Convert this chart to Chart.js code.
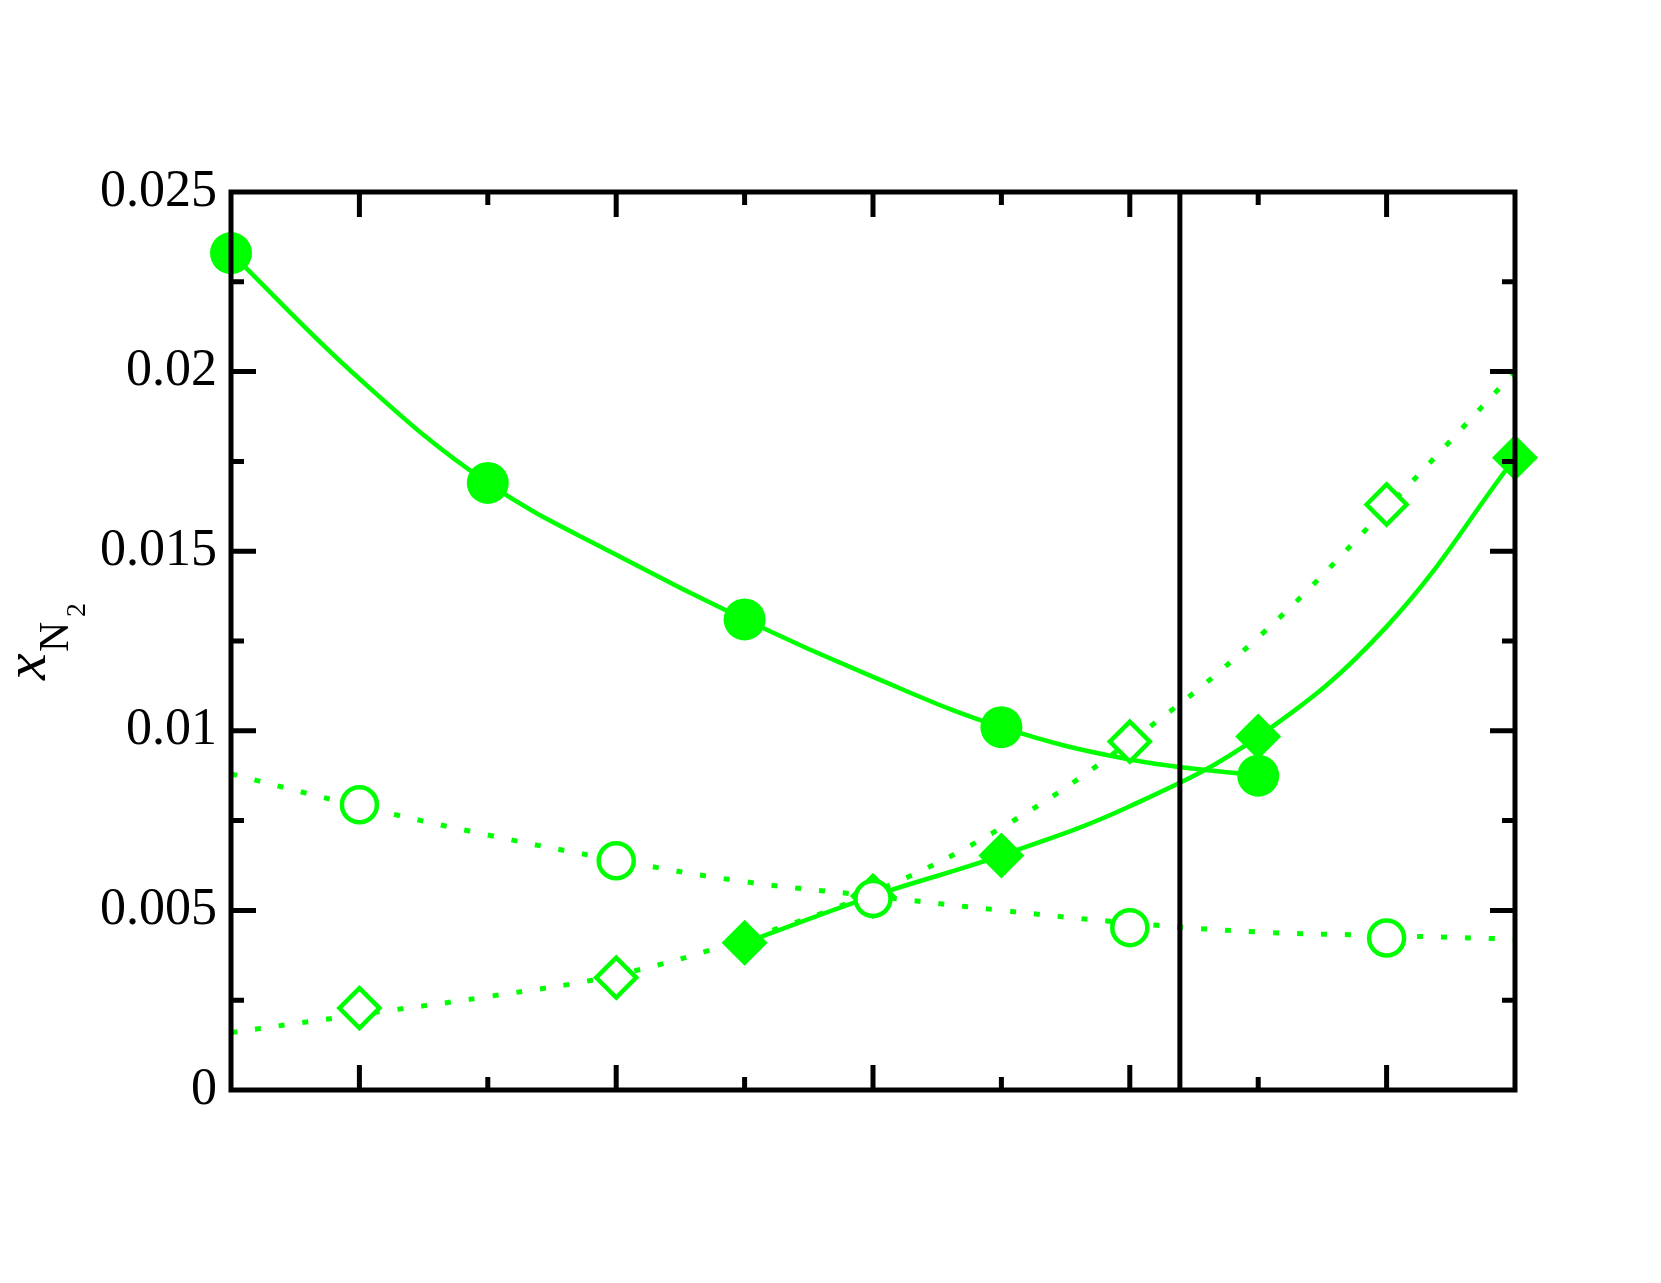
<!DOCTYPE html>
<html>
<head>
<meta charset="utf-8">
<script src="https://cdn.jsdelivr.net/npm/chart.js@4.4.0/dist/chart.umd.min.js"></script>
<style>
  html, body { margin: 0; padding: 0; background: #fff; }
</style>
</head>
<body>
<canvas id="chart" width="1661" height="1283"></canvas>
<script>
// measured points
const xFilledCircle = [0, 2, 4, 6, 8];
const yFilledCircle = [0.0233, 0.0169, 0.0131, 0.0101, 0.00875];
const xFilledDiamond = [4, 6, 8, 10];
const yFilledDiamond = [0.0041, 0.00653, 0.00984, 0.0176];
const xOpenCircle = [1, 3, 5, 7, 9];
const yOpenCircle = [0.00794, 0.00638, 0.00533, 0.00452, 0.00423];
const xOpenDiamond = [1, 3, 5, 7, 9];
const yOpenDiamond = [0.00228, 0.00313, 0.0054, 0.0097, 0.0163];

// fitted curves at whole x steps
const xFitFilledCircle = [0, 1, 2, 3, 4, 5, 6, 7, 8];
const yFitFilledCircle = [0.0233, 0.0198, 0.0169, 0.0149, 0.0131, 0.0115, 0.0101, 0.0092, 0.00875];
const xFitFilledDiamond = [4, 5, 6, 7, 8, 9, 10];
const yFitFilledDiamond = [0.0041, 0.0054, 0.00653, 0.0079, 0.00984, 0.0129, 0.0176];
const xFitOpenCircle = [0, 1, 2, 3, 4, 5, 6, 7, 8, 9, 10];
const yFitOpenCircle = [0.0088, 0.0079, 0.0071, 0.0064, 0.0058, 0.0054, 0.0050, 0.00465, 0.0044, 0.0043, 0.0042];
const xFitOpenDiamond = [0, 1, 2, 3, 4, 5, 6, 7, 8, 9, 10];
const yFitOpenDiamond = [0.0016, 0.0021, 0.0026, 0.0032, 0.0042, 0.0055, 0.0073, 0.0097, 0.0126, 0.0162, 0.0200];

// vertical marker line
const boundaryX = 7.39;

const yTickLabels = ['0', '0.005', '0.01', '0.015', '0.02', '0.025'];

const GREEN = '#00ff00';

function pts(xs, ys) {
  let out = [];
  for (let i = 0; i < xs.length; i++) {
    out.push({ x: xs[i], y: ys[i] });
  }
  return out;
}

function fitLine(xs, ys, dotted) {
  return {
    data: pts(xs, ys),
    borderColor: GREEN,
    borderWidth: dotted ? 5 : 4.5,
    borderDash: dotted ? [6, 18] : [],
    borderCapStyle: 'butt',
    pointRadius: 0,
    tension: 0.4,
    fill: false,
    order: 2
  };
}

function markers(xs, ys, style, radius, open) {
  return {
    data: pts(xs, ys),
    showLine: false,
    pointStyle: style,
    pointRadius: radius,
    pointBackgroundColor: open ? '#ffffff' : GREEN,
    pointBorderColor: GREEN,
    pointBorderWidth: open ? 4.5 : 0,
    clip: false,
    order: 0
  };
}

// frame, inward ticks on all four sides, and the vertical line
const framePlugin = {
  id: 'frame',
  afterDatasetsDraw(chart) {
    const ctx = chart.ctx;
    const a = chart.chartArea;
    const xs = chart.scales.x;
    const ys = chart.scales.y;
    ctx.save();
    ctx.strokeStyle = '#000';
    ctx.lineWidth = 5;
    ctx.lineCap = 'butt';
    ctx.lineJoin = 'miter';

    const bx = xs.getPixelForValue(boundaryX);
    ctx.beginPath();
    ctx.moveTo(bx, a.top);
    ctx.lineTo(bx, a.bottom);
    ctx.stroke();

    ctx.beginPath();
    for (let i = 1; i < 10; i++) {
      const px = xs.getPixelForValue(i);
      const len = i % 2 === 1 ? 25 : 13;
      ctx.moveTo(px, a.bottom);
      ctx.lineTo(px, a.bottom - len);
      ctx.moveTo(px, a.top);
      ctx.lineTo(px, a.top + len);
    }
    for (let i = 1; i < 10; i++) {
      const py = ys.getPixelForValue(i * 0.0025);
      const len = i % 2 === 0 ? 25 : 13;
      ctx.moveTo(a.left, py);
      ctx.lineTo(a.left + len, py);
      ctx.moveTo(a.right, py);
      ctx.lineTo(a.right - len, py);
    }
    ctx.stroke();

    ctx.strokeRect(a.left, a.top, a.right - a.left, a.bottom - a.top);
    ctx.restore();
  }
};

// y axis title: x with subscript N with subscript 2, rotated
const titlePlugin = {
  id: 'ytitle',
  afterDraw(chart) {
    const ctx = chart.ctx;
    ctx.save();
    ctx.translate(45, 680);
    ctx.rotate(-Math.PI / 2);
    ctx.fillStyle = '#000';
    ctx.textBaseline = 'alphabetic';
    ctx.textAlign = 'left';
    ctx.font = 'italic 60px "Liberation Serif"';
    ctx.fillText('x', 0, 0);
    ctx.font = '42px "Liberation Serif"';
    ctx.fillText('N', 28, 23);
    ctx.font = '28px "Liberation Serif"';
    ctx.fillText('2', 63, 40);
    ctx.restore();
  }
};

new Chart(document.getElementById('chart'), {
  type: 'line',
  data: {
    datasets: [
      markers(xFilledCircle, yFilledCircle, 'circle', 21, false),
      markers(xFilledDiamond, yFilledDiamond, 'rectRot', 23, false),
      markers(xOpenCircle, yOpenCircle, 'circle', 17.5, true),
      markers(xOpenDiamond, yOpenDiamond, 'rectRot', 20, true),
      fitLine(xFitFilledCircle, yFitFilledCircle, false),
      fitLine(xFitFilledDiamond, yFitFilledDiamond, false),
      fitLine(xFitOpenCircle, yFitOpenCircle, true),
      fitLine(xFitOpenDiamond, yFitOpenDiamond, true)
    ]
  },
  options: {
    responsive: false,
    animation: false,
    devicePixelRatio: 1,
    layout: {
      padding: { left: 0, top: 192, right: 146, bottom: 193 }
    },
    plugins: {
      legend: { display: false },
      tooltip: { enabled: false },
      title: { display: false }
    },
    scales: {
      x: {
        type: 'linear',
        display: false,
        min: 0,
        max: 10
      },
      y: {
        type: 'linear',
        min: 0,
        max: 0.025,
        grid: { display: false, drawTicks: false },
        border: { display: false },
        ticks: {
          stepSize: 0.005,
          padding: 14,
          color: '#000',
          font: { family: 'Liberation Serif', size: 52 },
          callback: function (value) {
            return yTickLabels[Math.round(value / 0.005)];
          }
        },
        afterFit: function (scale) {
          scale.width = 231;
        }
      }
    }
  },
  plugins: [framePlugin, titlePlugin]
});
</script>
</body>
</html>
